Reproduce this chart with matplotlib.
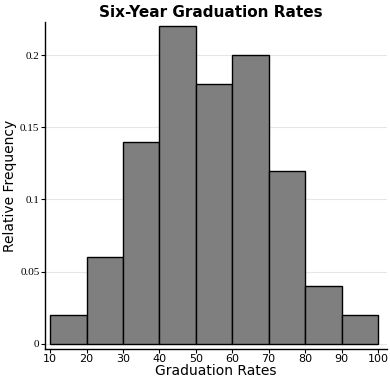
import numpy as np
import matplotlib
matplotlib.use('Agg')
import matplotlib.pyplot as plt

# bin edges and relative frequencies
bin_edges = [10, 20, 30, 40, 50, 60, 70, 80, 90, 100]
rel_freq = [0.02, 0.06, 0.14, 0.22, 0.18, 0.20, 0.12, 0.04, 0.02]
y_ticks = [0, 0.05, 0.1, 0.15, 0.2]
y_tick_labels = ['0', '0.05', '0.1', '0.15', '0.2']

fig = plt.figure(figsize=(3.9, 3.78), dpi=100)
ax = fig.add_axes([0.1154, 0.077, 0.877, 0.865])

lefts = bin_edges[:-1]
widths = np.diff(bin_edges)
ax.bar(lefts, rel_freq, width=widths, align='edge', color='#7f7f7f',
       edgecolor='black', linewidth=1.0, zorder=3)

ax.set_xlim(8.6, 102.5)
ax.set_ylim(-0.0035, 0.223)
ax.set_xticks(bin_edges)
ax.set_xticklabels([str(b) for b in bin_edges], fontsize=8, family='DejaVu Sans')
ax.set_yticks(y_ticks)
ax.set_yticklabels(y_tick_labels, fontsize=8, family='Liberation Serif')
ax.yaxis.grid(True, color='#e6e6e6', linewidth=0.8, zorder=0)
ax.tick_params(axis='both', length=3, width=0.8, pad=1, colors='black')

for side in ['top', 'right']:
    ax.spines[side].set_visible(False)
for side in ['left', 'bottom']:
    ax.spines[side].set_linewidth(1.0)

ax.set_xlabel('Graduation Rates', fontsize=10, labelpad=0)
ax.set_ylabel('Relative Frequency', fontsize=10, labelpad=2)
fig.text(0.54, 0.968, 'Six-Year Graduation Rates', ha='center', va='center',
         fontsize=11, fontweight='bold')

fig.savefig('out.png', dpi=100)
